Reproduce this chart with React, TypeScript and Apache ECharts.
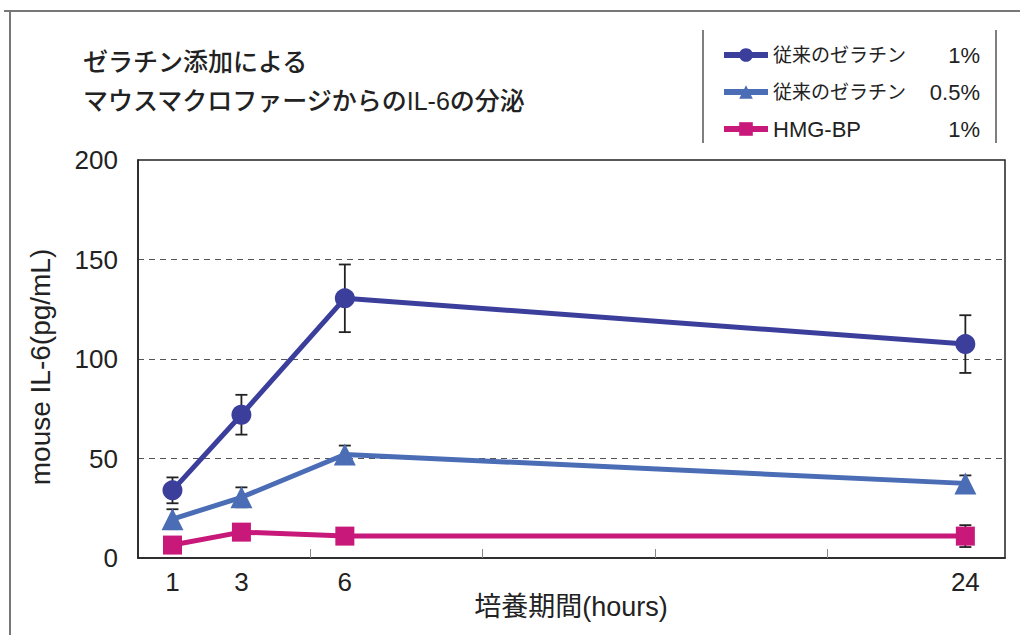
import React, { useEffect, useRef } from "react";
import * as echarts from "echarts";

const hours = [1, 3, 6, 24];
const xTickValues = [5, 10, 15, 20];
const seriesLabels = ["従来のゼラチン", "従来のゼラチン", "HMG-BP"];
const seriesConc = ["1%", "0.5%", "1%"];
const gel1Mean = [34, 72, 130.5, 107.5];
const gel1Err = [6.5, 10, 17, 14.5];
const gel05Mean = [19.5, 30.5, 52, 37.5];
const gel05Err = [5, 5, 4.5, 4];
const hmgMean = [6.5, 13, 11, 11];
const hmgErr = [1.5, 2, 1.5, 5.5];
const colors = ["#3b3f9b", "#4a6db6", "#c8197a"];
const symbols = ["circle", "triangle", "rect"];
const symbolSizes = [20, 22, 19];
const titleLines = ["ゼラチン添加による", "マウスマクロファージからのIL-6の分泌"];
const xName = "培養期間(hours)";
const yName = "mouse IL-6(pg/mL)";

const FONT = '"Liberation Sans", "Noto Sans CJK JP", sans-serif';

export default function App() {
  const ref = useRef<HTMLDivElement>(null);
  useEffect(() => {
    if (!ref.current) return;
    const chart = echarts.init(ref.current, undefined, { renderer: "svg" });
    const means = [gel1Mean, gel05Mean, hmgMean];
    const errs = [gel1Err, gel05Err, hmgErr];
    const names = seriesLabels.map((l, i) => `${l}|${seriesConc[i]}`);

    const lineSeries = means.map((m, i) => ({
      type: "line",
      name: names[i],
      data: hours.map((h, j) => [h, m[j]]),
      symbol: symbols[i],
      symbolSize: symbolSizes[i],
      showSymbol: true,
      lineStyle: { color: colors[i], width: 5 },
      itemStyle: { color: colors[i] },
      z: 3,
    }));

    const errSeries = means.map((m, i) => ({
      type: "custom",
      name: "err" + i,
      data: hours.map((h, j) => [h, m[j] - errs[i][j], m[j] + errs[i][j]]),
      renderItem: (params: any, api: any) => {
        const x = api.value(0);
        const lo = api.coord([x, api.value(1)]);
        const hi = api.coord([x, api.value(2)]);
        const hw = 6;
        const st = { stroke: "#222", lineWidth: 1.8 };
        return {
          type: "group",
          children: [
            { type: "line", shape: { x1: lo[0], y1: lo[1], x2: hi[0], y2: hi[1] }, style: st },
            { type: "line", shape: { x1: lo[0] - hw, y1: lo[1], x2: lo[0] + hw, y2: lo[1] }, style: st },
            { type: "line", shape: { x1: hi[0] - hw, y1: hi[1], x2: hi[0] + hw, y2: hi[1] }, style: st },
          ],
        };
      },
      z: 2,
      silent: true,
    }));

    const option: any = {
      animation: false,
      backgroundColor: "#ffffff",
      grid: {
        left: 138,
        top: 160,
        width: 867,
        height: 398,
        show: true,
        borderColor: "#222",
        borderWidth: 1.5,
      },
      xAxis: {
        type: "value",
        min: 0,
        max: 25.15,
        axisLine: { show: true, lineStyle: { color: "#222", width: 1.5 } },
        axisTick: {
          show: true,
          inside: true,
          length: 9,
          customValues: xTickValues,
          lineStyle: { color: "#888", width: 1 },
        },
        axisLabel: {
          customValues: hours,
          fontSize: 26,
          color: "#222",
          margin: 11,
          fontFamily: FONT,
        },
        splitLine: { show: false },
      },
      yAxis: {
        type: "value",
        min: 0,
        max: 200,
        interval: 50,
        axisLine: { show: true, lineStyle: { color: "#222", width: 1.5 } },
        axisTick: { show: false },
        axisLabel: { fontSize: 26, color: "#222", margin: 20, fontFamily: FONT },
        splitLine: {
          show: true,
          showMinLine: false,
          showMaxLine: false,
          lineStyle: { color: "#555", width: 1, type: [6, 5] },
        },
      },
      legend: {
        data: names,
        orient: "vertical",
        left: 716,
        top: 39,
        itemWidth: 44,
        itemHeight: 17,
        itemGap: 15,
        lineStyle: { width: 6 },
        formatter: (name: string) => {
          const [a, b] = name.split("|");
          const cjk = /[\u3000-\u9fff]/.test(a);
          return `{${cjk ? "a" : "c"}|${a}}{b|${b}}`;
        },
        textStyle: {
          rich: {
            a: { width: 140, fontSize: 19, fontFamily: FONT, color: "#222", lineHeight: 22 },
            c: { width: 140, fontSize: 22, fontFamily: FONT, color: "#222", lineHeight: 22 },
            b: { width: 67, fontSize: 22, fontFamily: FONT, color: "#222", align: "right", lineHeight: 22 },
          },
        },
      },
      graphic: [
        { type: "line", shape: { x1: 4, y1: 11, x2: 1020, y2: 11 }, style: { stroke: "#777", lineWidth: 2 } },
        { type: "line", shape: { x1: 10, y1: 11, x2: 10, y2: 635 }, style: { stroke: "#777", lineWidth: 2 } },
        { type: "line", shape: { x1: 703, y1: 30, x2: 703, y2: 143 }, style: { stroke: "#555", lineWidth: 1.5 } },
        { type: "line", shape: { x1: 996, y1: 30, x2: 996, y2: 143 }, style: { stroke: "#555", lineWidth: 1.5 } },
        {
          type: "text",
          style: { text: titleLines[0], x: 83, y: 62, fontSize: 25, fontFamily: FONT, fontWeight: 500, fill: "#222", align: "left", verticalAlign: "middle" },
        },
        {
          type: "text",
          style: { text: titleLines[1], x: 83, y: 101, fontSize: 25, fontFamily: FONT, fontWeight: 500, fill: "#222", align: "left", verticalAlign: "middle" },
        },
        {
          type: "text",
          x: 571,
          y: 607,
          style: { text: xName, x: 0, y: 0, fontSize: 27, fontFamily: FONT, fill: "#222", align: "center", verticalAlign: "middle" },
        },
        {
          type: "text",
          x: 40,
          y: 367,
          rotation: Math.PI / 2,
          style: { text: yName, x: 0, y: 0, fontSize: 28, fontFamily: FONT, fill: "#222", align: "center", verticalAlign: "middle" },
        },
      ],
      series: [...errSeries, ...lineSeries],
    };
    chart.setOption(option);
    return () => chart.dispose();
  }, []);
  return (
    <div
      ref={ref}
      style={{ position: "fixed", left: 0, top: 0, width: 1020, height: 635, background: "#fff" }}
    />
  );
}
